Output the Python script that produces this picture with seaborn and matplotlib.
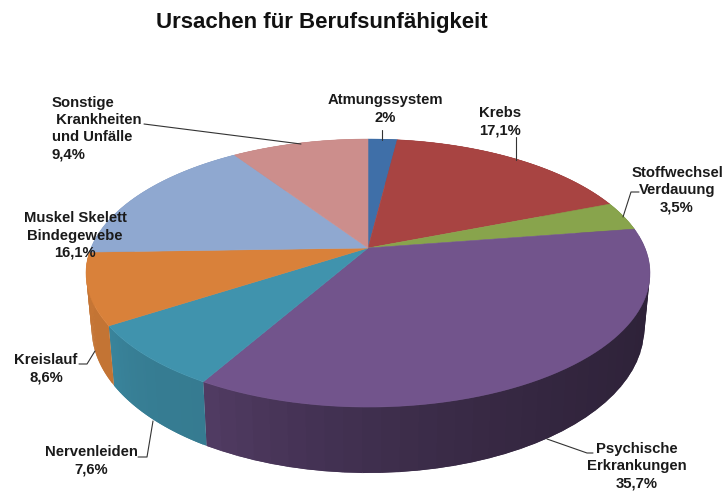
"""Tilted 3D-looking pie of the causes of occupational disability."""

from __future__ import annotations

import matplotlib

matplotlib.use("Agg")
import matplotlib.pyplot as plt
import numpy as np
import seaborn as sns
from matplotlib.collections import PolyCollection
from matplotlib.path import Path
from matplotlib.transforms import Affine2D, Transform

causes = [
    "Atmungssystem",
    "Krebs",
    "Stoffwechsel Verdauung",
    "Psychische Erkrankungen",
    "Nervenleiden",
    "Kreislauf",
    "Muskel Skelett Bindegewebe",
    "Sonstige Krankheiten und Unfälle",
]
shares = [2.0, 17.1, 3.5, 35.7, 7.6, 8.6, 16.1, 9.4]
slice_colors = ["#3f6fa8", "#a84442", "#88a44c", "#72548c", "#4093ad", "#d9813a", "#8fa8d0", "#cc8e8c"]
# side shading along the clockwise direction of each slice
side_shades = [(0.8, 0.8), (0.8, 0.8), (0.8, 0.8), (0.40, 0.70), (0.84, 0.90), (0.90, 0.92), (0.9, 0.9), (0.9, 0.9)]

CX, CY = 368.0, 248.0
WIDTH, HEIGHT, TILT = 277.0, 129.3, 0.187
DEPTH = 53.7


def project(xy: np.ndarray) -> np.ndarray:
    """Perspective view of the unit disc, in image pixels."""
    x, y = xy[:, 0], xy[:, 1]
    denom = 1.0 + TILT * y
    return np.column_stack([CX + WIDTH * x / denom, CY - HEIGHT * y / denom])


class DiscView(Transform):
    """Non-affine wrapper so that the pie wedges go through project()."""

    input_dims = 2
    output_dims = 2
    is_separable = False

    def transform_non_affine(self, values):
        return project(np.asarray(values, dtype=float))

    def transform_path_non_affine(self, path):
        # flatten the arcs at a fine scale before bending them
        poly = path.transformed(Affine2D().scale(600)).to_polygons()[0] / 600.0
        return Path(project(poly), closed=True)


def side_quads(theta1: float, theta2: float, shades: tuple, base: str):
    """Rim segments of one slice, with the colour shaded along the rim."""
    angles = np.radians(np.linspace(theta2, theta1, 41))
    rim = np.column_stack([np.cos(angles), np.sin(angles)])
    top = project(rim)
    bottom = top.copy()
    bottom[:, 0] = CX + (top[:, 0] - CX) * 0.98
    bottom[:, 1] = top[:, 1] + DEPTH / (1.0 + TILT * rim[:, 1])
    # each quad runs under the next one, so no seams show between them
    quads = [np.array([top[i], top[min(i + 2, 40)], bottom[min(i + 2, 40)], bottom[i]]) for i in range(40)]
    rgb = np.array(matplotlib.colors.to_rgb(base))
    ramp = np.linspace(0, 1, 40) ** 2.5
    colors = [rgb * (shades[0] + (shades[1] - shades[0]) * t) for t in ramp]
    return quads, colors


sns.set_style("white")
plt.rcParams["font.family"] = ["Liberation Sans", "DejaVu Sans"]
palette = sns.color_palette(slice_colors)

fig = plt.figure(figsize=(7.25, 4.91), dpi=100)
ax = fig.add_axes([0, 0, 1, 1])

wedges, _ = ax.pie(shares, colors=palette, startangle=90, counterclock=False)
view = DiscView() + ax.transData
for wedge, color in zip(wedges, palette):
    wedge.set_transform(view)
    wedge.set_edgecolor(color)
    wedge.set_linewidth(0.4)
    wedge.set_zorder(3)

for wedge, shades, base in zip(wedges, side_shades, slice_colors):
    quads, colors = side_quads(wedge.theta1, wedge.theta2, shades, base)
    ax.add_collection(PolyCollection(quads, facecolors=colors, edgecolors="none", zorder=2))

ax.set_aspect("auto")
ax.axis("off")

ax.text(321.5, 22, "Ursachen für Berufsunfähigkeit", ha="center", va="center", fontsize=16, fontweight="bold", color="#111111")

labels = [
    (385, 109, "center", "Atmungssystem\n2%"),
    (500, 121.5, "center", "Krebs\n17,1%"),
    (677, 190, "center", "Stoffwechsel\nVerdauung\n3,5%"),
    (637, 466, "center", "Psychische\nErkrankungen\n35,7%"),
    (91, 460.5, "center", "Nervenleiden\n7,6%"),
    (46, 369, "center", "Kreislauf\n8,6%"),
    (75, 235.5, "center", "Muskel Skelett\nBindegewebe\n16,1%"),
    (52, 128.5, "left", "Sonstige\n Krankheiten\nund Unfälle\n9,4%"),
]
for x, y, ha, text in labels:
    ax.text(x, y, text, ha=ha, va="center", multialignment="center" if ha == "center" else "left",
            fontsize=10.7, fontweight="bold", color="#1a1a1a", linespacing=1.3, zorder=5)

leaders = [
    ([382, 382], [130, 140]),
    ([516, 516], [137, 160]),
    ([639, 631, 623], [192, 192, 217]),
    ([144, 301], [124, 144]),
    ([79, 87, 95], [364, 364, 351]),
    ([138, 147, 153], [457, 457, 421]),
    ([593, 587, 547], [453, 453, 439]),
]
for xs, ys in leaders:
    ax.plot(xs, ys, color="#333333", linewidth=0.8, zorder=4)

ax.set_xlim(0, 725)
ax.set_ylim(491, 0)
fig.savefig("out.png", dpi=100, facecolor="white")
plt.close(fig)
